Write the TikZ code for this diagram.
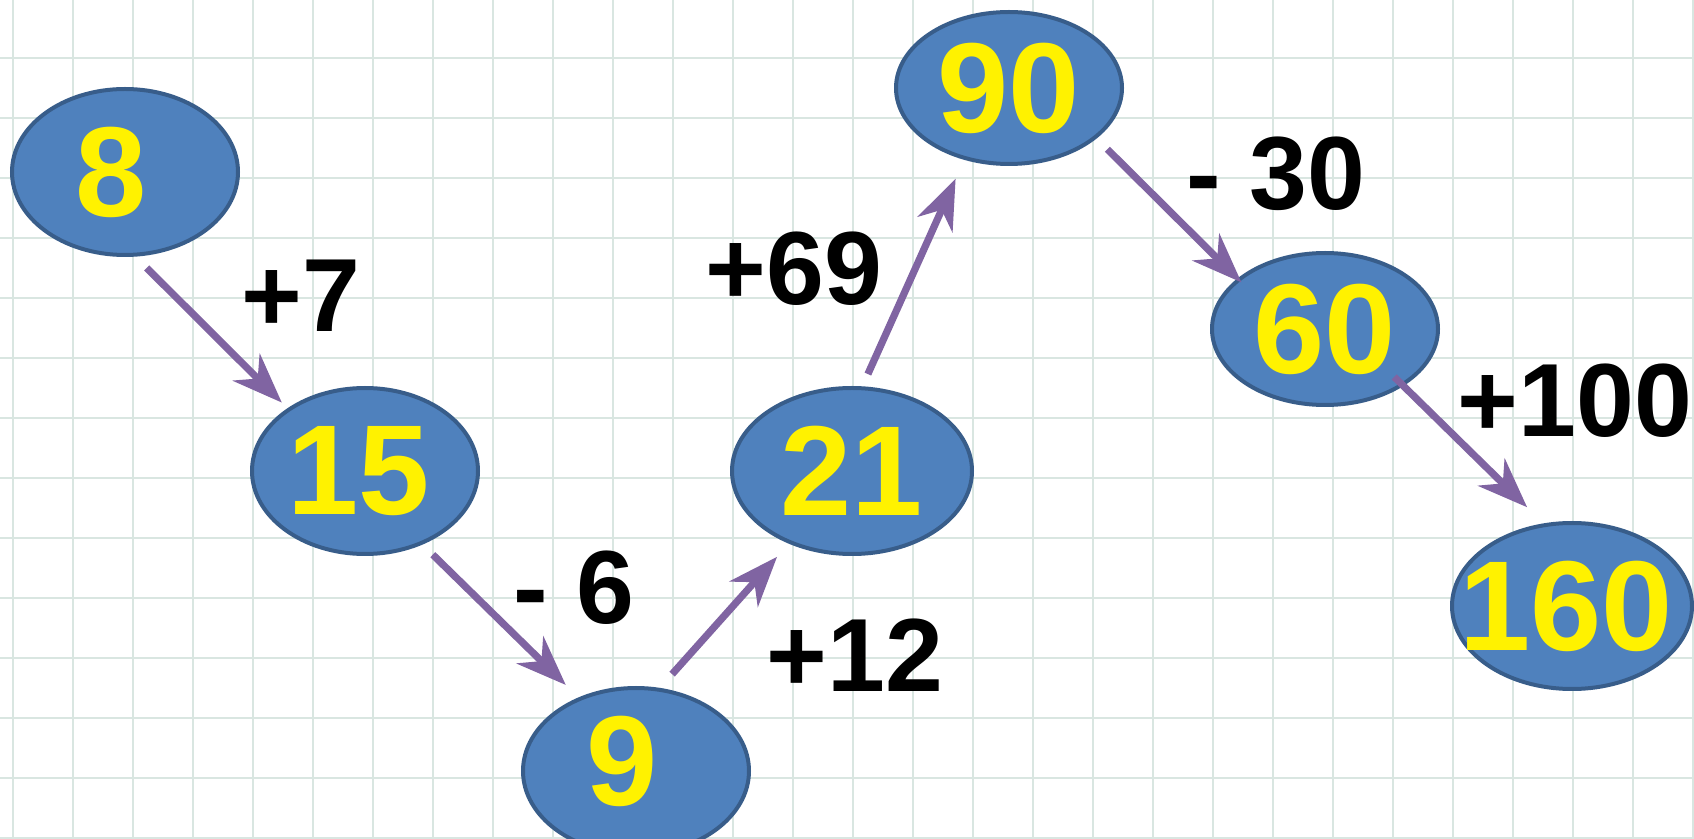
\documentclass[tikz,border=0pt]{standalone}
\usepackage{fontspec}
\setmainfont{Liberation Sans}
\usetikzlibrary{shapes.geometric,arrows.meta}

\definecolor{cellblue}{HTML}{4F81BD}
\definecolor{cellrim}{HTML}{385D8A}
\definecolor{jump}{HTML}{8064A2}
\definecolor{gridgreen}{HTML}{D9E6E1}
\newcommand{\cellnum}[1]{\makebox[0pt]{#1}}

\begin{document}
\begin{tikzpicture}[x=0.5pt, y=-0.5pt,
    num/.style={ellipse, fill=cellblue, draw=cellrim, line width=2pt, text=yellow,
        font=\fontsize{64}{64}\selectfont\bfseries, inner sep=0pt,
        minimum width=113pt, minimum height=83pt},
    delta/.style={font=\fontsize{52}{52}\selectfont\bfseries, inner sep=0pt},
    jumparrow/.style={-{Stealth[length=25pt,width=19pt,inset=8pt]}, jump, line width=3.6pt},
    gridline/.style={gridgreen, line width=1pt}]
                \useasboundingbox (0,0) rectangle (1694,839);
                \clip (0,0) rectangle (1694,839);
                \fill[white] (0,0) rectangle (1694,839);

                \foreach \gx in {13,73,...,1693} {
                    \draw[gridline] (\gx,0) -- (\gx,839);
                }
                \foreach \gy in {58,118,...,838} {
                    \draw[gridline] (0,\gy) -- (1694,\gy);
                }

                \node[num] (n8) at (125,172) {\cellnum{8\hspace{14pt}}};
                \node[num] (n15) at (365,471) {\cellnum{15\hspace{6pt}}};
                \node[num] (n9) at (636,771) {\cellnum{\raisebox{5pt}[\height][0pt]{9}\hspace{14pt}}};
                \node[num, minimum width=120pt] (n21) at (852,471) {\cellnum{21}};
                \node[num, minimum height=76pt] (n90) at (1009,88) {\cellnum{90}};
                \node[num, minimum height=76pt] (n60) at (1325,329) {\cellnum{60}};
                \node[num, minimum width=120pt] (n160) at (1572,606) {\cellnum{160\hspace{6pt}}};

                \node[delta] (d7) at (301,296) {+7};
                \node[delta] (d6) at (574,588) {- 6};
                \node[delta] (d12) at (855,655) {+12};
                \node[delta] (d69) at (794,269) {+69};
                \node[delta] (d30) at (1276,174) {- 30};
                \node[delta] (d100) at (1575,401) {+100};

                \draw[jumparrow, shorten <=8pt, shorten >=4pt] (n8.-83) -- (n15.141);
                \draw[jumparrow, shorten <=7.2pt, shorten >=8.9pt] (n15.-52) -- (n9.128);
                \draw[jumparrow, shorten <=9.2pt, shorten >=8.8pt] (n9.74) -- (n21.-131);
                \draw[jumparrow, shorten <=6.7pt, shorten >=10.4pt] (n21.83) -- (n90.-122);
                \draw[jumparrow, shorten <=7.6pt, shorten >=-2.8pt] (n90.-30) -- (n60.150);
                \draw[jumparrow, shorten <=-6.5pt, shorten >=11.5pt] (n60.-36) -- (n160.109);
            \end{tikzpicture}
\end{document}
